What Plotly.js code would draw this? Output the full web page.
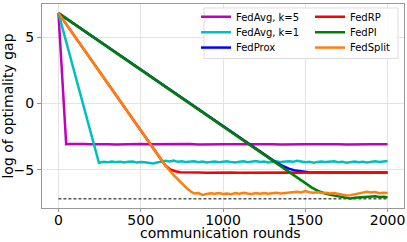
<!DOCTYPE html>
<html>
<head>
<meta charset="utf-8">
<script src="https://cdn.plot.ly/plotly-3.0.1.min.js"></script>
<style>html,body{margin:0;padding:0;background:#fff;}#chart{width:407px;height:242px;}</style>
</head>
<body>
<div id="chart"></div>
<script>
// ---- data ----
const seriesNames = ["FedAvg, k=5", "FedAvg, k=1", "FedProx", "FedRP", "FedPI", "FedSplit"];

const fedAvg5X = [0, 47, 70, 100, 150, 200, 250, 300, 350, 400, 450, 500, 550, 600, 650, 700, 750, 800, 850, 900, 950, 1000, 1050, 1100, 1150, 1200, 1250, 1300, 1350, 1400, 1450, 1500, 1550, 1600, 1650, 1700, 1750, 1800, 1850, 1900, 1950, 2000];
const fedAvg5Y = [6.8, -3.08, -3.06, -3.08, -3.07, -3.09, -3.07, -3.08, -3.10, -3.07, -3.08, -3.06, -3.09, -3.08, -3.07, -3.09, -3.08, -3.07, -3.10, -3.08, -3.07, -3.09, -3.08, -3.06, -3.08, -3.09, -3.07, -3.08, -3.10, -3.08, -3.07, -3.09, -3.08, -3.07, -3.09, -3.08, -3.10, -3.08, -3.07, -3.09, -3.08, -3.08];

const fedAvg1X = [0, 246, 275, 300, 325, 350, 375, 400, 425, 450, 475, 500, 525, 550, 575, 600, 625, 650, 675, 700, 725, 750, 775, 800, 825, 850, 875, 900, 925, 950, 975, 1000, 1025, 1050, 1075, 1100, 1125, 1150, 1175, 1200, 1225, 1250, 1275, 1300, 1325, 1350, 1375, 1400, 1425, 1450, 1475, 1500, 1525, 1550, 1575, 1600, 1625, 1650, 1675, 1700, 1725, 1750, 1775, 1800, 1825, 1850, 1875, 1900, 1925, 1950, 1975, 2000];
const fedAvg1Y = [6.8, -4.48, -4.40, -4.44, -4.38, -4.43, -4.40, -4.45, -4.41, -4.39, -4.46, -4.42, -4.44, -4.50, -4.53, -4.46, -4.40, -4.33, -4.38, -4.32, -4.41, -4.37, -4.43, -4.40, -4.36, -4.44, -4.39, -4.45, -4.42, -4.38, -4.44, -4.41, -4.36, -4.43, -4.46, -4.40, -4.37, -4.44, -4.41, -4.35, -4.42, -4.39, -4.46, -4.41, -4.37, -4.43, -4.40, -4.36, -4.41, -4.33, -4.38, -4.44, -4.40, -4.47, -4.42, -4.38, -4.43, -4.40, -4.36, -4.44, -4.41, -4.47, -4.42, -4.38, -4.44, -4.40, -4.45, -4.41, -4.37, -4.42, -4.36, -4.35];

const fedProxX = [0, 1280, 1320, 1360, 1400, 1440, 1480, 1520, 1560, 1600, 1800, 2000];
const fedProxY = [6.8, -4.13, -4.43, -4.70, -4.92, -5.07, -5.16, -5.20, -5.22, -5.22, -5.22, -5.22];

const fedRPX = [0, 650, 680, 710, 740, 780, 800, 850, 900, 950, 1000, 1050, 1100, 1150, 1200, 1250, 1300, 1350, 1400, 1450, 1500, 1550, 1600, 1650, 1700, 1750, 1800, 1850, 1900, 1950, 2000];
const fedRPY = [6.8, -4.69, -4.98, -5.12, -5.19, -5.22, -5.23, -5.22, -5.24, -5.22, -5.23, -5.21, -5.23, -5.22, -5.24, -5.22, -5.21, -5.23, -5.22, -5.24, -5.22, -5.23, -5.21, -5.22, -5.24, -5.22, -5.23, -5.22, -5.21, -5.23, -5.24];

const fedPIX = [0, 1540, 1580, 1620, 1660, 1700, 1725, 1750, 1775, 1800, 1825, 1850, 1875, 1900, 1925, 1950, 1975, 2000];
const fedPIY = [6.8, -6.35, -6.62, -6.80, -6.92, -7.02, -7.10, -7.16, -7.18, -7.12, -7.10, -7.06, -7.09, -7.03, -7.00, -7.06, -7.04, -7.08];

const fedSplitX = [0, 650, 700, 740, 780, 810, 825, 850, 875, 900, 925, 950, 975, 1000, 1025, 1050, 1075, 1100, 1125, 1150, 1175, 1200, 1225, 1250, 1275, 1300, 1325, 1350, 1375, 1400, 1425, 1450, 1475, 1500, 1525, 1550, 1575, 1600, 1625, 1650, 1675, 1700, 1725, 1750, 1775, 1800, 1825, 1850, 1875, 1900, 1925, 1950, 1975, 2000];
const fedSplitY = [6.8, -4.69, -5.42, -5.95, -6.40, -6.70, -6.80, -6.76, -6.90, -6.84, -6.78, -6.82, -6.76, -6.83, -6.79, -6.85, -6.77, -6.81, -6.74, -6.80, -6.83, -6.77, -6.81, -6.76, -6.82, -6.78, -6.74, -6.80, -6.77, -6.72, -6.70, -6.66, -6.72, -6.62, -6.70, -6.74, -6.71, -6.76, -6.74, -6.80, -6.76, -6.82, -6.90, -6.95, -6.92, -6.86, -6.80, -6.70, -6.66, -6.72, -6.68, -6.78, -6.74, -6.76];

const optimumX = [0, 2000];
const optimumY = [-7.2, -7.2];

const xTicks = [0, 500, 1000, 1500, 2000];
const yTicks = [-5, 0, 5];
const xLabel = "communication rounds";
const yLabel = "log of optimality gap";

// ---- styling ----
const colors = ["#bf00bf", "#00bfbf", "#0000ff", "#ff0000", "#008000", "#ff7f0e"];
const xs = [fedAvg5X, fedAvg1X, fedProxX, fedRPX, fedPIX, fedSplitX];
const ys = [fedAvg5Y, fedAvg1Y, fedProxY, fedRPY, fedPIY, fedSplitY];

const L = 42, R = 3, T = 2, B = 34, W = 407, H = 242;
const pw = W - L - R, ph = H - T - B;
const px = v => (v - L) / pw;
const py = v => (H - B - v) / ph;

// one small legend per entry, laid out in two columns of three rows
const legendIds = ["legend", "legend2", "legend3", "legend4", "legend5", "legend6"];
const legendCol = [196, 196, 196, 310, 310, 310];
const legendRow = [15, 30.5, 46, 15, 30.5, 46];

const traces = seriesNames.map((n, i) => ({
  x: xs[i], y: ys[i], name: n, type: "scatter", mode: "lines",
  line: {color: colors[i], width: 2.5},
  legend: legendIds[i]
}));
traces.unshift({
  x: optimumX, y: optimumY, type: "scatter", mode: "lines", showlegend: false,
  line: {color: "#000", width: 1, dash: "3px,2px"}, hoverinfo: "skip"
});

const font = {family: "DejaVu Sans, sans-serif", size: 14, color: "#000"};
const legendFont = {family: "DejaVu Sans, sans-serif", size: 10, color: "#000"};

const layout = {
  width: W, height: H,
  margin: {l: L, r: R, t: T, b: B, pad: 0},
  paper_bgcolor: "#fff", plot_bgcolor: "#fff",
  font: font,
  showlegend: true,
  xaxis: {
    range: [-100, 2100], tickvals: xTicks, ticktext: xTicks.map(String),
    showgrid: true, gridcolor: "#e3e3e3", gridwidth: 1, zeroline: false,
    showline: true, mirror: true, linecolor: "#999", linewidth: 1,
    ticks: "outside", ticklen: 3, tickcolor: "#999",
    ticklabelstandoff: -4,
    tickfont: font
  },
  yaxis: {
    range: [-7.89, 7.49], tickvals: yTicks,
    showgrid: true, gridcolor: "#e3e3e3", gridwidth: 1, zeroline: false,
    showline: true, mirror: true, linecolor: "#999", linewidth: 1,
    ticks: "outside", ticklen: 4, tickcolor: "#999",
    tickfont: font,
    title: {text: yLabel, font: font, standoff: 6}
  },
  annotations: [{
    text: xLabel, xref: "paper", yref: "paper",
    x: px(220.5), y: py(233), xanchor: "center", yanchor: "middle",
    showarrow: false, font: font
  }],
  shapes: [{
    type: "rect", xref: "paper", yref: "paper", layer: "above",
    x0: px(204), x1: px(398), y0: py(6), y1: py(57),
    fillcolor: "rgba(255,255,255,0.85)", line: {color: "#dcdcdc", width: 1}
  }]
};
legendIds.forEach((id, i) => {
  layout[id] = {
    x: px(legendCol[i]), y: py(legendRow[i]), xanchor: "left", yanchor: "middle",
    bgcolor: "rgba(0,0,0,0)", borderwidth: 0, font: legendFont, tracegroupgap: 0
  };
});

Plotly.newPlot("chart", traces, layout, {staticPlot: true, displayModeBar: false});
</script>
</body>
</html>
